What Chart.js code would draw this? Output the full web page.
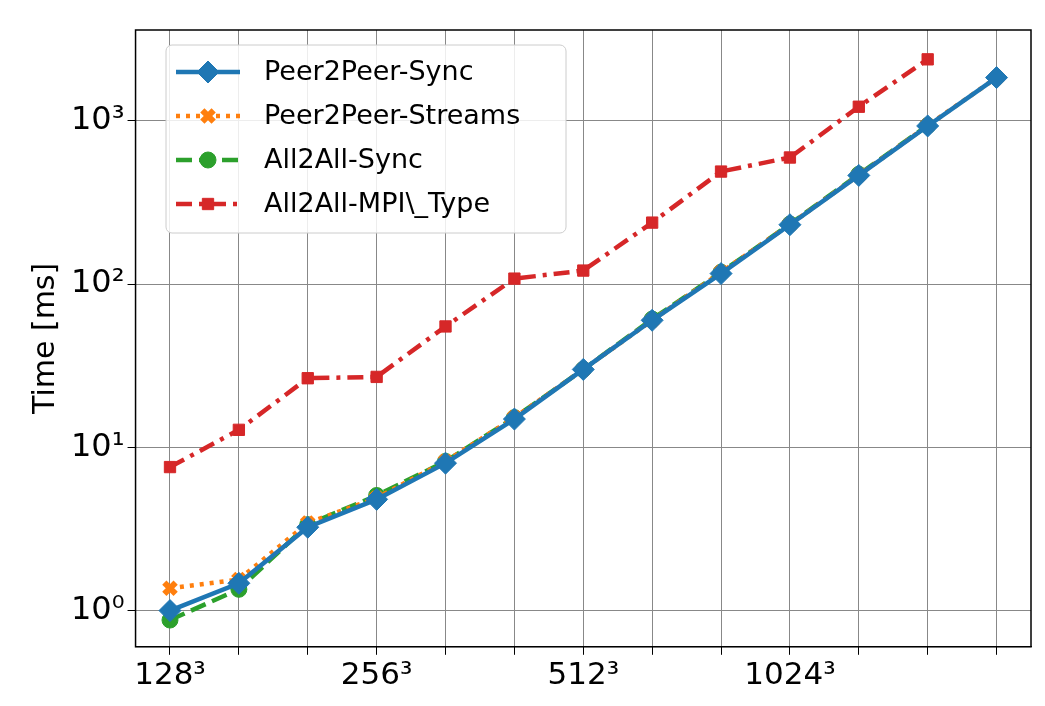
<!DOCTYPE html>
<html>
<head>
<meta charset="utf-8">
<script src="https://cdn.jsdelivr.net/npm/chart.js@4"></script>
<style>
  body { margin: 0; background: #fff; }
  #wrap { width: 1045px; height: 706px; }
</style>
</head>
<body>
<div id="wrap"><canvas id="timeChart"></canvas></div>
<script>
const ctx = document.getElementById('timeChart').getContext('2d');

// Grid sizes (cube edge), only some are labelled
const categories = ['128', '', '', '256', '', '', '512', '', '', '1024', '', '', ''];
const yTicks = [1, 10, 100, 1000];

// Times in ms
const p2pSync = [1.0, 1.47, 3.24, 4.8, 8.0, 14.9, 30, 60, 116, 231, 463, 930, 1840];
const p2pStreams = [1.37, 1.55, 3.44, 4.9, 8.2, 15.2, 30, 60, 118, 232, 465, 935, 1840];
const a2aSync = [0.875, 1.35, 3.36, 5.07, 8.2, 15.2, 30, 61, 118, 233, 470, 935, null];
const a2aMpiType = [7.57, 12.8, 26.5, 27, 55, 108, 121, 238, 489, 596, 1220, 2380, null];

const series = [
  { label: 'Peer2Peer-Sync', data: p2pSync, color: '#1f77b4', dash: [], style: 'rectRot', r: 11, bw: 1 },
  { label: 'Peer2Peer-Streams', data: p2pStreams, color: '#ff7f0e', dash: [4, 6], style: 'crossRot', r: 8, bw: 6 },
  { label: 'All2All-Sync', data: a2aSync, color: '#2ca02c', dash: [16, 7], style: 'circle', r: 8, bw: 1 },
  { label: 'All2All-MPI\\_Type', data: a2aMpiType, color: '#d62728', dash: [16, 7, 4, 7], style: 'rect', r: 8, bw: 1 }
];

const sup = { '0': '⁰', '1': '¹', '2': '²', '3': '³' };

// Frame around plot area + legend drawn inside it
const framePlugin = {
  id: 'frame',
  afterDraw(chart) {
    const { ctx, chartArea: a } = chart;
    ctx.save();
    ctx.strokeStyle = '#000';
    ctx.lineWidth = 1.5;
    ctx.strokeRect(a.left, a.top, a.right - a.left, a.bottom - a.top);

    const x0 = 166, y0 = 45, w = 400, h = 188;
    ctx.fillStyle = 'rgba(255,255,255,0.85)';
    ctx.strokeStyle = '#ccc';
    ctx.lineWidth = 1;
    ctx.beginPath();
    ctx.roundRect(x0, y0, w, h, 6);
    ctx.fill();
    ctx.stroke();
    ctx.font = '27px "DejaVu Sans"';
    ctx.textBaseline = 'middle';
    series.forEach((s, i) => {
      const y = y0 + 27 + i * 44;
      ctx.strokeStyle = s.color;
      ctx.lineWidth = 4.5;
      ctx.setLineDash(s.dash);
      ctx.beginPath();
      ctx.moveTo(x0 + 10, y);
      ctx.lineTo(x0 + 74, y);
      ctx.stroke();
      ctx.setLineDash([]);
      ctx.fillStyle = s.color;
      ctx.strokeStyle = s.color;
      ctx.lineWidth = s.bw;
      Chart.helpers.drawPoint(ctx, { pointStyle: s.style, radius: s.r, borderWidth: s.bw }, x0 + 42, y);
      ctx.fillStyle = '#000';
      ctx.fillText(s.label.replace('\\\\', '\\'), x0 + 98, y + 1);
    });
    ctx.restore();
  }
};

new Chart(ctx, {
  type: 'line',
  data: {
    labels: categories,
    datasets: series.map(s => ({
      label: s.label,
      data: s.data,
      borderColor: s.color,
      backgroundColor: s.color,
      borderWidth: 4.5,
      borderDash: s.dash,
      pointStyle: s.style,
      pointRadius: s.r,
      pointBorderWidth: s.bw,
      pointBackgroundColor: s.color,
      pointBorderColor: s.color,
      tension: 0,
      spanGaps: false
    }))
  },
  options: {
    responsive: true,
    maintainAspectRatio: false,
    animation: false,
    layout: { padding: { top: 30, right: 14, left: 24, bottom: 8 } },
    plugins: {
      legend: { display: false },
      tooltip: { enabled: false }
    },
    scales: {
      x: {
        offset: true,
        grid: { color: '#888', lineWidth: 1, tickLength: 8, tickColor: '#000', offset: false },
        border: { color: '#000' },
        ticks: {
          color: '#000',
          font: { size: 31, family: 'DejaVu Sans' },
          maxRotation: 0,
          autoSkip: false,
          callback: (v, i) => categories[i] ? categories[i] + '³' : ''
        }
      },
      y: {
        type: 'logarithmic',
        min: 0.62,
        max: 3600,
        afterBuildTicks: (axis) => { axis.ticks = yTicks.map(v => ({ value: v })); },
        grid: { color: '#888', lineWidth: 1, tickLength: 8, tickColor: '#000' },
        border: { color: '#000' },
        ticks: {
          color: '#000',
          font: { size: 32, family: 'DejaVu Sans' },
          callback: v => '10' + sup[String(Math.round(Math.log10(v)))]
        },
        title: {
          display: true,
          text: 'Time [ms]',
          color: '#000',
          font: { size: 30, family: 'DejaVu Sans' }
        }
      }
    }
  },
  plugins: [framePlugin]
});
</script>
</body>
</html>
